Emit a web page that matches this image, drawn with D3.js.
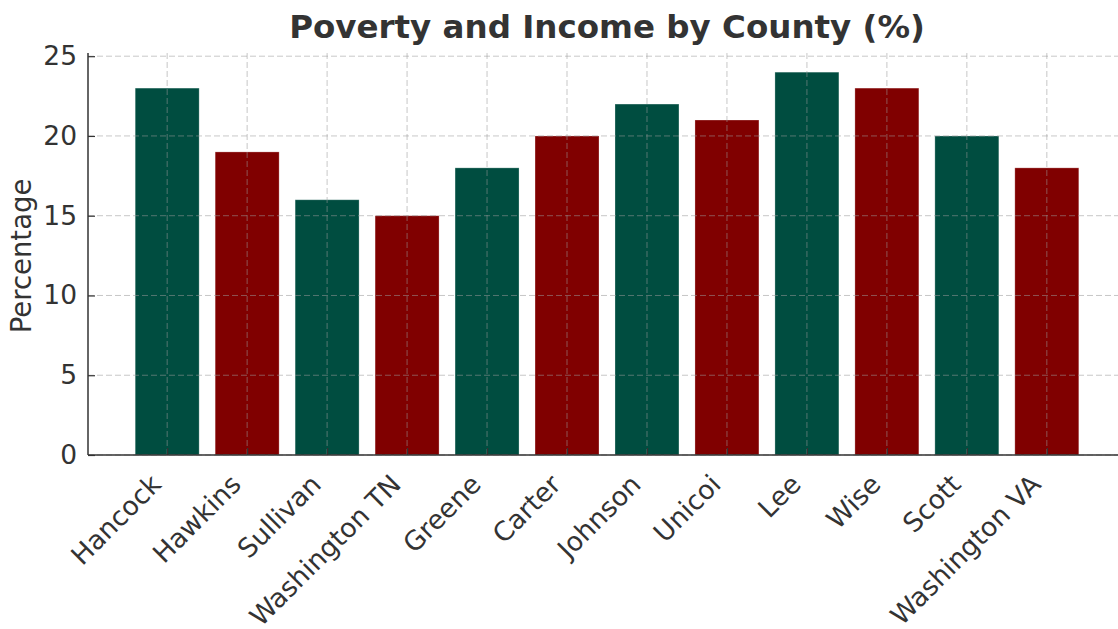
<!DOCTYPE html>
<html>
<head>
<meta charset="utf-8">
<script src="https://cdn.jsdelivr.net/npm/d3@7"></script>
<style>
body { margin: 0; background: #fff; }
text { font-family: "DejaVu Sans", sans-serif; fill: #333; }
</style>
</head>
<body>
<div id="chart"></div>
<script>
const counties = ["Hancock", "Hawkins", "Sullivan", "Washington TN", "Greene", "Carter",
  "Johnson", "Unicoi", "Lee", "Wise", "Scott", "Washington VA"];
const percentages = [23, 19, 16, 15, 18, 20, 22, 21, 24, 23, 20, 18];
const barColors = ["#004d40", "#800000"];
const yTicks = [0, 5, 10, 15, 20, 25];

(function(){

const width = 1118, height = 629;
const plotLeft = 88, plotRight = 1126, plotTop = 53, plotBottom = 455;

const svg = d3.select("#chart").append("svg")
  .attr("width", width).attr("height", height);

const x = d3.scaleLinear().domain([-0.99, counties.length - 0.01]).range([plotLeft, plotRight]);
const y = d3.scaleLinear().domain([0, 25.2]).range([plotBottom, plotTop]);
const barW = x(0.8) - x(0);

// bars
svg.selectAll("rect.bar")
  .data(percentages)
  .enter()
  .append("rect")
  .attr("class", "bar")
  .attr("x", (d, i) => x(i) - barW / 2)
  .attr("y", d => y(d))
  .attr("width", barW)
  .attr("height", d => y(0) - y(d))
  .attr("fill", (d, i) => barColors[i % 2])
  .attr("stroke", "#ffffff")
  .attr("stroke-opacity", 0.35)
  .attr("stroke-width", 0.8);

// grid on top
const grid = svg.append("g")
  .attr("stroke", "#999")
  .attr("stroke-opacity", 0.55)
  .attr("stroke-width", 1)
  .attr("stroke-dasharray", "6,3");

grid.selectAll("line.h")
  .data(yTicks)
  .enter()
  .append("line")
  .attr("x1", plotLeft).attr("x2", width)
  .attr("y1", d => y(d)).attr("y2", d => y(d));

grid.selectAll("line.v")
  .data(counties)
  .enter()
  .append("line")
  .attr("x1", (d, i) => x(i)).attr("x2", (d, i) => x(i))
  .attr("y1", plotTop).attr("y2", plotBottom);

// y axis
const yAxis = svg.append("g")
  .attr("transform", `translate(${plotLeft},0)`)
  .call(d3.axisLeft(y).tickValues(yTicks).tickSize(-7).tickPadding(11));
yAxis.select(".domain").attr("stroke", "#333").attr("stroke-width", 1.5)
  .attr("d", `M0,${plotBottom}V${plotTop}`);
yAxis.selectAll(".tick line").attr("stroke", "#333").attr("stroke-width", 1.2);
yAxis.selectAll(".tick text")
  .style("font-size", "26.5px")
  .style("font-family", "DejaVu Sans")
  .attr("fill", "#333");

// x axis
const xAxis = svg.append("g")
  .attr("transform", `translate(0,${plotBottom})`)
  .call(d3.axisBottom(x).tickValues(d3.range(counties.length)).tickSize(-7)
    .tickFormat(i => counties[i]));
xAxis.select(".domain").attr("stroke", "#333").attr("stroke-width", 1.5)
  .attr("d", `M${plotLeft},0H${width}`);
xAxis.selectAll(".tick line").attr("stroke", "#333").attr("stroke-width", 1.2);
xAxis.selectAll(".tick text")
  .style("font-size", "26.5px")
  .style("font-family", "DejaVu Sans")
  .attr("fill", "#333")
  .attr("text-anchor", "end")
  .attr("dy", null)
  .attr("y", 0)
  .attr("transform", "translate(-5,31) rotate(-45)");

// title
svg.append("text")
  .attr("x", 607)
  .attr("y", 38)
  .attr("text-anchor", "middle")
  .style("font-size", "32.5px")
  .style("font-weight", "bold")
  .text("Poverty and Income by County (%)");

// y label
svg.append("text")
  .attr("transform", "translate(31,256) rotate(-90)")
  .attr("text-anchor", "middle")
  .style("font-size", "27.5px")
  .text("Percentage");

})();
</script>
</body>
</html>
